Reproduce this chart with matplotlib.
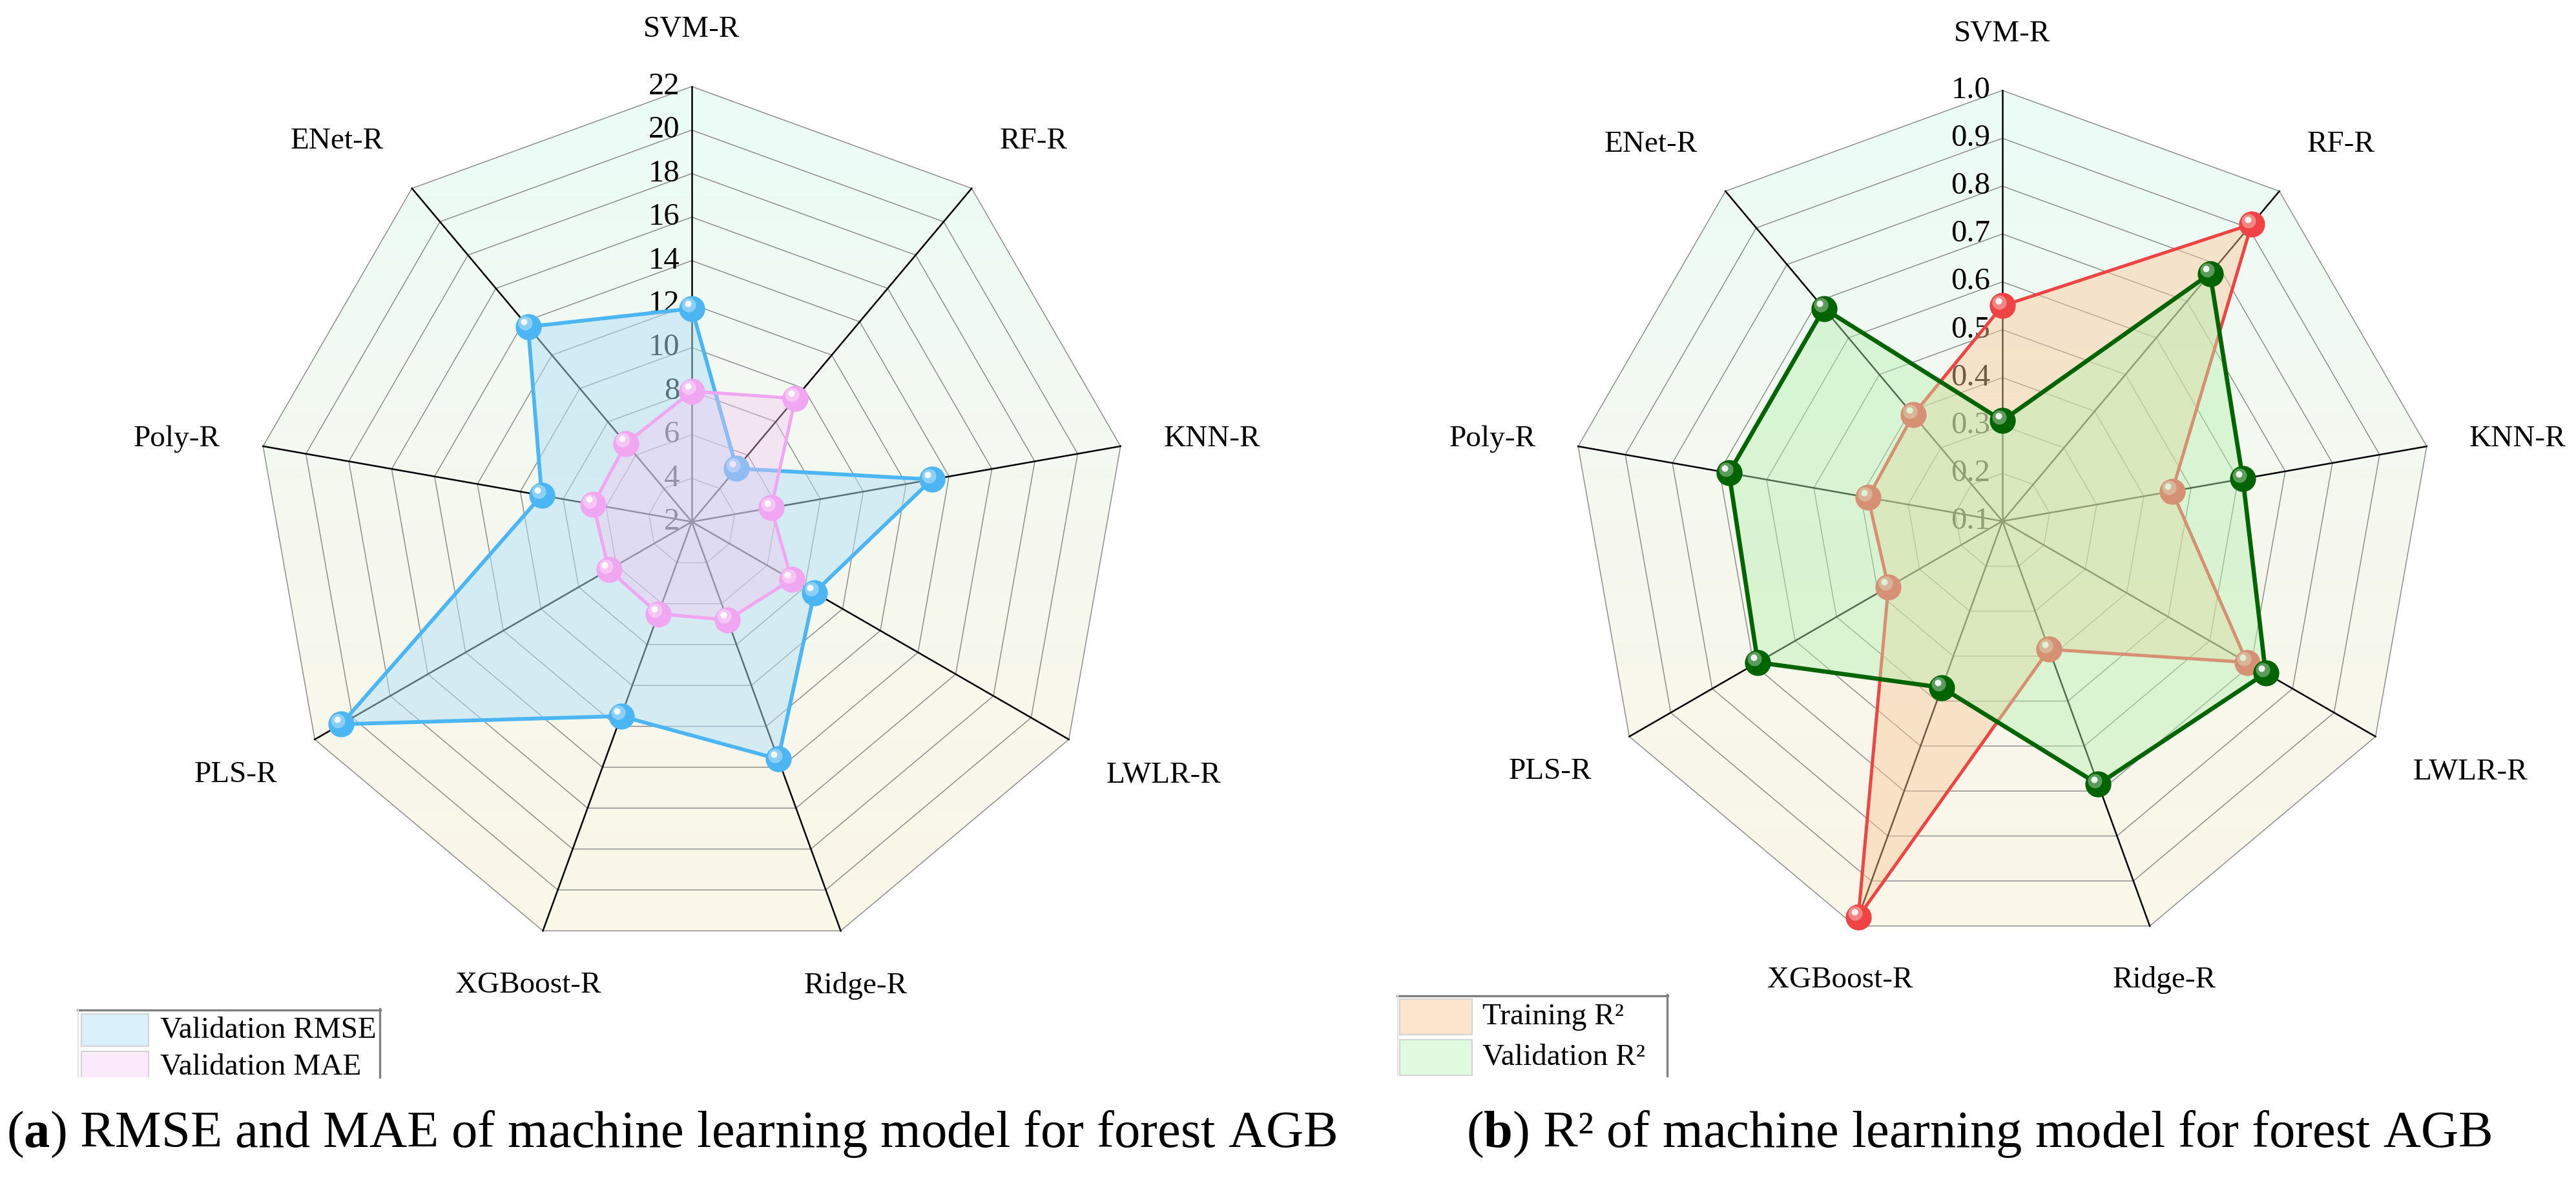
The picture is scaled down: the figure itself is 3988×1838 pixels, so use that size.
import numpy as np
import matplotlib.pyplot as plt
from matplotlib.patches import Polygon, Rectangle
from matplotlib.colors import LinearSegmentedColormap, to_rgb
from matplotlib.transforms import offset_copy

plt.rcParams['font.family'] = ['Liberation Serif', 'DejaVu Serif']
plt.rcParams['mathtext.fontset'] = 'custom'
plt.rcParams['mathtext.rm'] = 'Liberation Serif'
plt.rcParams['mathtext.bf'] = 'Liberation Serif:bold'

models = ['SVM-R', 'RF-R', 'KNN-R', 'LWLR-R', 'Ridge-R', 'XGBoost-R', 'PLS-R', 'Poly-R', 'ENet-R']

rmse_valid = [11.8, 5.2, 13.2, 8.5, 13.6, 11.5, 20.6, 9.0, 13.7]
mae_valid = [8.0, 9.4, 5.7, 7.3, 6.8, 6.5, 6.4, 6.6, 6.7]
r2_train = [0.55, 0.91, 0.46, 0.69, 0.385, 0.98, 0.375, 0.385, 0.39]
r2_valid = [0.31, 0.775, 0.61, 0.735, 0.685, 0.47, 0.69, 0.68, 0.68]

err_ticks = [2, 4, 6, 8, 10, 12, 14, 16, 18, 20, 22]
r2_ticks = [0.1, 0.2, 0.3, 0.4, 0.5, 0.6, 0.7, 0.8, 0.9, 1.0]

W, H = 3988, 1838
fig = plt.figure(figsize=(W / 100, H / 100), dpi=100)

bg_cmap = LinearSegmentedColormap.from_list('bg', ['#fbf6e8', '#f5f8ef', '#ebfcf7'])


def lighten(c, amt):
	c = np.array(to_rgb(c))
	return tuple(c + (1 - c) * amt)


def make_axes(cx, cy, rad):
	hw, hh = 1.7, 1.25
	ax = fig.add_axes([(cx - hw * rad) / W, (H - cy - hh * rad) / H, 2 * hw * rad / W, 2 * hh * rad / H])
	ax.axis('off')
	return ax, hw, hh


def ball(ax, x, y, color, z, ms=29):
	# shaded sphere look: base disc + soft light + white glint
	ax.scatter(x, y, s=ms ** 2, color=color, linewidths=0, zorder=z)
	tr = offset_copy(ax.transData, fig=fig, x=-3.5, y=4, units='points')
	ax.scatter(x, y, s=(ms * 0.55) ** 2, color=lighten(color, 0.45), linewidths=0, alpha=0.8, transform=tr, zorder=z + 0.1)
	tr2 = offset_copy(ax.transData, fig=fig, x=-4.5, y=5.5, units='points')
	ax.scatter(x, y, s=(ms * 0.25) ** 2, color='white', linewidths=0, alpha=0.9, transform=tr2, zorder=z + 0.2)


def radar(cx, cy, rad, ticks, tick_labels, series):
	ax, hw, hh = make_axes(cx, cy, rad)
	n = len(models)
	ang = np.pi / 2 - 2 * np.pi * np.arange(n) / n
	lo, hi = ticks[0], ticks[-1]

	def xy(vals):
		r = (np.asarray(vals, float) - lo) / (hi - lo)
		x, y = r * np.cos(ang), r * np.sin(ang)
		return np.append(x, x[0]), np.append(y, y[0])

	ox, oy = xy([hi] * n)
	frame = Polygon(np.column_stack([ox, oy]), closed=True, fc='none', ec='none')
	ax.add_patch(frame)
	grad = np.linspace(0, 1, 256).reshape(-1, 1)
	im = ax.imshow(grad, extent=(-1, 1, -1, 1), origin='lower', cmap=bg_cmap, aspect='auto', zorder=0)
	im.set_clip_path(frame)

	for t in ticks[1:]:
		gx, gy = xy([t] * n)
		ax.plot(gx, gy, color='#8f8f8f', lw=1.1, zorder=1)
	for a in ang:
		ax.plot([0, np.cos(a)], [0, np.sin(a)], color='black', lw=1.8, zorder=2)
	for t, s in zip(ticks, tick_labels):
		ax.text(-0.028, (t - lo) / (hi - lo), s, ha='right', va='center', fontsize=35, zorder=3)

	pad = 0.1
	for a, name in zip(ang, models):
		c, s = np.cos(a), np.sin(a)
		ha = 'left' if c > 0.5 else ('right' if c < -0.5 else 'center')
		va = 'bottom' if s > 0.5 else ('top' if s < -0.3 else 'center')
		ax.text((1 + pad) * c, (1 + pad) * s, name, ha=ha, va=va, fontsize=34)

	z = 4
	for vals, lc, fc, fa, lw in series:
		x, y = xy(vals)
		ax.fill(x, y, color=fc, alpha=fa, lw=0, zorder=z)
		ax.plot(x, y, color=lc, lw=lw, zorder=z + 1, solid_joinstyle='round')
		ball(ax, x[:-1], y[:-1], lc, z + 2)
		z += 3

	ax.set_xlim(-hw, hw)
	ax.set_ylim(-hh, hh)
	return ax


radar(1071, 808, 674, err_ticks, [str(t) for t in err_ticks],
	[(rmse_valid, '#4cb6f4', '#b3e0f7', 0.5, 4.2),
	 (mae_valid, '#f0a6f0', '#f3c6f3', 0.4, 3.6)])

radar(3100, 807, 667, r2_ticks, ['%.1f' % t for t in r2_ticks],
	[(r2_train, '#f04444', '#fbc99a', 0.45, 3.6),
	 (r2_valid, '#006400', '#b8f0b0', 0.45, 4.8)])


def legend_box(x0, x1, top, cut, entries):
	lax = fig.add_axes([x0 / W, (H - cut) / H, (x1 - x0) / W, (cut - top) / H])
	lax.set_xlim(x0, x1)
	lax.set_ylim(cut, top)
	lax.axis('off')
	lax.plot([x0, x1], [top + 1.5, top + 1.5], color='#808080', lw=2.4, clip_on=False)
	lax.plot([x1 - 1.5, x1 - 1.5], [top, cut], color='#808080', lw=2.4, clip_on=False)
	lax.plot([x0 + 1, x0 + 1], [top, cut], color='#e2e2e2', lw=1.5, clip_on=False)
	for (px, py, pw, ph, fc, label, tx, ty) in entries:
		lax.add_patch(Rectangle((px, py), pw, ph, facecolor=fc, edgecolor='#d4d4d4', lw=1.5, clip_on=True))
		lax.text(tx, ty, label, ha='left', va='center', fontsize=34, clip_on=True)


legend_box(120, 589, 1562, 1668,
	[(126, 1570, 104, 50, '#daf0fb', 'Validation RMSE', 248, 1595),
	 (126, 1628, 104, 50, '#fbeafb', 'Validation MAE', 248, 1652)])
legend_box(2163, 2582, 1540, 1666,
	[(2167, 1547, 112, 55, '#fde5cc', 'Training R²', 2295, 1575),
	 (2167, 1610, 112, 55, '#e0fbe0', 'Validation R²', 2295, 1637)])

fig.text(10 / W, 62 / H, r'($\mathbf{a}$) RMSE and MAE of machine learning model for forest AGB',
	fontsize=58, va='baseline', ha='left')
fig.text(2270 / W, 62 / H, r'($\mathbf{b}$) R² of machine learning model for forest AGB',
	fontsize=58, va='baseline', ha='left')

fig.savefig('out.png', dpi=100, facecolor='white')
